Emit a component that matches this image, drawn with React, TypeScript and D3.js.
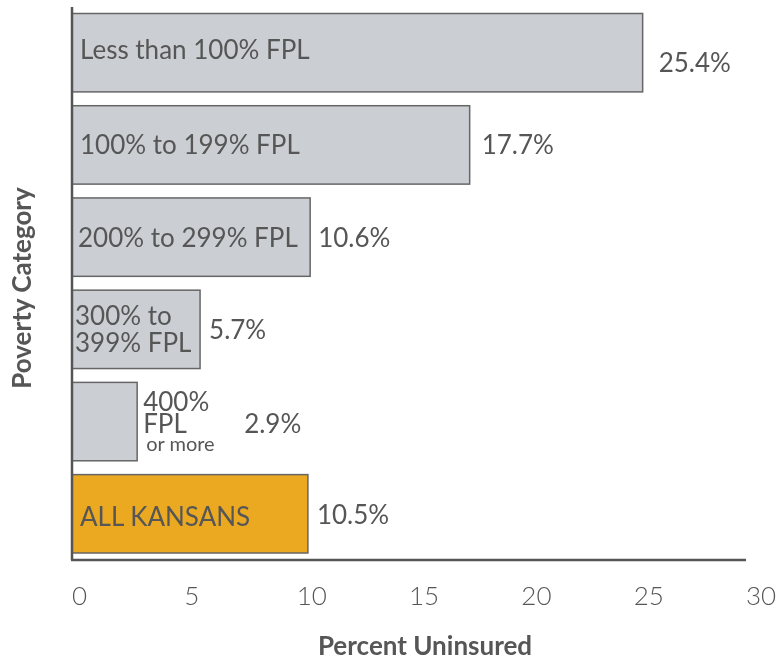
import React, { useEffect, useRef } from 'react'
import * as d3 from 'd3'

// Poverty categories, top to bottom
const categories = [
  'Less than 100% FPL',
  '100% to 199% FPL',
  '200% to 299% FPL',
  '300% to 399% FPL',
  '400% FPL or more',
  'ALL KANSANS',
]
const uninsured = [25.4, 17.7, 10.6, 5.7, 2.9, 10.5]
const xTicks = [0, 5, 10, 15, 20, 25, 30]

const TEXT = '#565656'
const GREY = '#cbced3'
const ORANGE = '#eaa920'
const FONT = 'Lato, "Open Sans", sans-serif'
const FS = 26

const BarChart = () => {
  const ref = useRef<SVGSVGElement | null>(null)

  useEffect(() => {
    if (!ref.current) return
    const svg = d3.select(ref.current)
    svg.selectAll('*').remove()

    const data = categories.map((c, i) => ({ cat: c, v: uninsured[i] }))

    const x = d3.scaleLinear().domain([0, 30]).range([72, 746])
    const y = d3
      .scaleBand()
      .domain(categories)
      .range([13.5, 553])
      .paddingInner(0.15)
      .paddingOuter(0)

    const g = svg.append('g').attr('font-family', FONT).attr('fill', TEXT)
    const mid = (c: string) => y(c)! + y.bandwidth() / 2

    // bars
    g.selectAll('rect.bar')
      .data(data)
      .enter()
      .append('rect')
      .attr('class', 'bar')
      .attr('x', x(0))
      .attr('y', (d) => y(d.cat)!)
      .attr('width', (d) => x(d.v) - x(0))
      .attr('height', y.bandwidth())
      .attr('fill', (d) => (d.cat === 'ALL KANSANS' ? ORANGE : GREY))
      .attr('stroke', '#666')
      .attr('stroke-width', 1.5)

    // value labels (first one sits a bit lower in the original)
    const valDy = [19, 9.5, 9.5, 10, 11, 10]
    const valDx = [16, 12, 8, 9, 107, 9]
    g.selectAll('text.val')
      .data(data)
      .enter()
      .append('text')
      .attr('class', 'val')
      .attr('x', (d, i) => x(d.v) + valDx[i])
      .attr('y', (d, i) => mid(d.cat) + valDy[i])
      .attr('font-size', FS)
      .text((d) => d.v.toFixed(1) + '%')

    // category labels inside / beside bars
    const lab = (t: string, xx: number, yy: number, size = FS) =>
      g.append('text').attr('x', xx).attr('y', yy).attr('font-size', size).text(t)

    lab(categories[0], 80, mid(categories[0]) + 6)
    lab(categories[1], 80, mid(categories[1]) + 9.5)
    lab(categories[2], 78, mid(categories[2]) + 9.5)
    lab('300% to', 75, mid(categories[3]) - 4)
    lab('399% FPL', 75, mid(categories[3]) + 23)
    lab('400%', x(uninsured[4]) + 6, mid(categories[4]) - 11)
    lab('FPL', x(uninsured[4]) + 6, mid(categories[4]) + 11)
    lab('or more', x(uninsured[4]) + 9, mid(categories[4]) + 29, 20)
    lab(categories[5], 80, mid(categories[5]) + 12)

    // axes
    g.append('line')
      .attr('x1', 72).attr('x2', 72)
      .attr('y1', 7).attr('y2', 560)
      .attr('stroke', '#555').attr('stroke-width', 2.5)
    g.append('line')
      .attr('x1', 71).attr('x2', 746)
      .attr('y1', 560).attr('y2', 560)
      .attr('stroke', '#555').attr('stroke-width', 2.5)

    g.selectAll('text.tick')
      .data(xTicks)
      .enter()
      .append('text')
      .attr('class', 'tick')
      .attr('x', (d) => x(d))
      .attr('y', 605)
      .attr('font-size', FS)
      .attr('font-weight', 300)
      .text((d) => d)

    g.append('text')
      .attr('x', 425)
      .attr('y', 655)
      .attr('text-anchor', 'middle')
      .attr('font-size', FS)
      .attr('font-weight', 'bold')
      .text('Percent Uninsured')

    g.append('text')
      .attr('transform', 'translate(31,288) rotate(-90)')
      .attr('text-anchor', 'middle')
      .attr('font-size', FS)
      .attr('font-weight', 'bold')
      .text('Poverty Category')
  }, [])

  return <svg ref={ref} width={778} height={660} style={{ display: 'block' }} />
}

export default function App() {
  return (
    <div style={{ position: 'fixed', left: 0, top: 0, width: 778, height: 660, overflow: 'hidden' }}>
      <BarChart />
    </div>
  )
}
